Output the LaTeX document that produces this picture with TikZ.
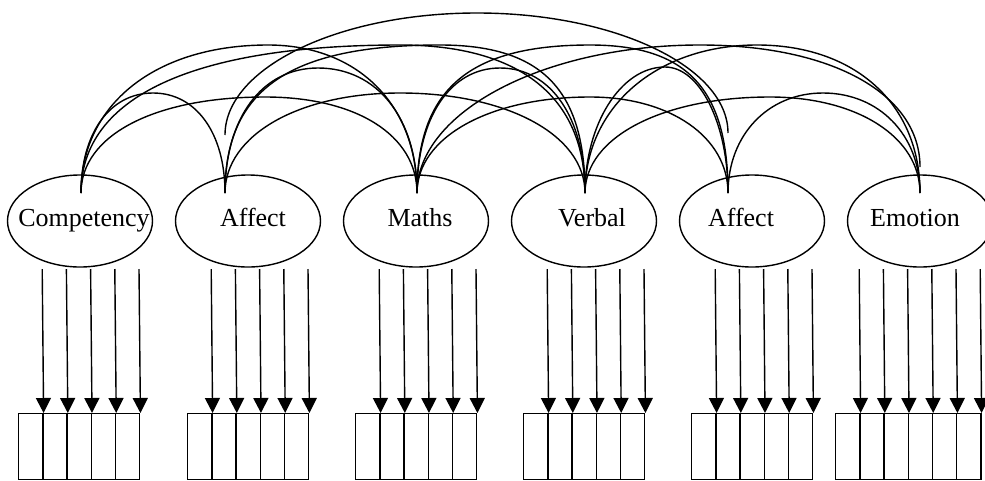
\documentclass[tikz,border=0pt]{standalone}
\usepackage{fontspec}
\setmainfont{Liberation Serif}
\usetikzlibrary{arrows.meta,shapes.geometric}
\begin{document}
\begin{tikzpicture}[x=1pt,y=-1pt,
  latent/.style={draw,ellipse,minimum width=145pt,minimum height=92pt,inner sep=0pt,line width=1.4pt},
  lab/.style={anchor=base,inner sep=0pt,font=\fontsize{26}{30}\selectfont},
  corr/.style={line width=1.4pt},
  cell/.style={draw,rectangle,minimum width=24.2pt,minimum height=66pt,inner sep=0pt,anchor=north west,line width=1.4pt},
  ind/.style={line width=1.4pt,-{Triangle[length=15pt,width=15pt]}}]
\useasboundingbox (0,0) rectangle (985,480);
% attachment points
\coordinate (tC) at (81,193);
\coordinate (tA) at (225,193);
\coordinate (tM) at (417,193);
\coordinate (tV) at (585,193);
\coordinate (tB) at (728,193);
\coordinate (tE) at (920,193);
\coordinate (tEh) at (920,167);
\coordinate (bA) at (225,135);
\coordinate (bB) at (728,133);
% correlation arcs
\draw[corr] (tC) .. controls +(0,-60) and +(-43,0) .. (153,93) .. controls +(43,0) and +(0,-60) .. (tA);
\draw[corr] (tC) .. controls +(0,-89) and +(-112,0) .. (268,45) .. controls +(89,0) and +(0,-89) .. (tM);
\draw[corr] (tC) .. controls +(0,-58) and +(-110,0) .. (265,97) .. controls +(91,0) and +(0,-58) .. (tM);
\draw[corr] (tC) .. controls +(0,-96) and +(-207,0) .. (400,45) .. controls +(120,0) and +(0,-96) .. (tV);
\draw[corr] (tA) .. controls +(0,-75) and +(-56,0) .. (318,68) .. controls +(59,0) and +(0,-75) .. (tM);
\draw[corr] (tA) .. controls +(0,-104) and +(-150,0) .. (440,45) .. controls +(101,0) and +(0,-104) .. (tV);
\draw[corr] (tA) .. controls +(0,-58) and +(-101,0) .. (400,93) .. controls +(107,0) and +(0,-58) .. (tV);
\draw[corr] (tM) .. controls +(0,-75) and +(-50,0) .. (500,68) .. controls +(51,0) and +(0,-75) .. (tV);
\draw[corr] (tM) .. controls +(0,-104) and +(-121,0) .. (590,45) .. controls +(97,0) and +(0,-104) .. (tB);
\draw[corr] (tM) .. controls +(0,-56) and +(-100,0) .. (590,97) .. controls +(80,0) and +(0,-56) .. (tB);
\draw[corr] (tM) .. controls +(0,-81) and +(-156,0) .. (700,45) .. controls +(132,0) and +(0,-73) .. (tEh);
\draw[corr] (tV) .. controls +(0,-69) and +(-44,0) .. (665,67) .. controls +(35,0) and +(0,-69) .. (tB);
\draw[corr] (tV) .. controls +(0,-86) and +(-100,0) .. (757,45) .. controls +(98,0) and +(0,-89) .. (tE);
\draw[corr] (tV) .. controls +(0,-56) and +(-107,0) .. (770,97) .. controls +(87,0) and +(0,-56) .. (tE);
\draw[corr] (tB) .. controls +(0,-58) and +(-55,0) .. (823,93) .. controls +(56,0) and +(0,-58) .. (tE);
\draw[corr] (bA) .. controls +(0,-67) and +(-139,0) .. (477,13) .. controls +(138,0) and +(0,-66) .. (bB);
% latent factors
\node[latent] (eC) at (80,221) {};
\node[latent] (eA) at (248,221) {};
\node[latent] (eM) at (416,221) {};
\node[latent] (eV) at (584,221) {};
\node[latent] (eB) at (752,221) {};
\node[latent] (eE) at (920,221) {};
\node[lab] (lC) at (84,226) {Competency};
\node[lab] (lA) at (253,226) {Affect};
\node[lab] (lM) at (420,226) {Maths};
\node[lab] (lV) at (592,226) {Verbal};
\node[lab] (lB) at (741,226) {Affect};
\node[lab] (lE) at (915,226) {Emotion};
% indicators
\foreach \g/\L/\n in {1/18/5, 2/187/5, 3/355/5, 4/523/5, 5/691/5, 6/835/6} {
  \foreach \k in {1,...,\n} {
    \node[cell] (c\g-\k) at ({\L+24.2*(\k-1)},413) {};
    \coordinate (s\g-\k) at ({\L+24.2*\k},269);
    \draw[ind] (s\g-\k) -- (c\g-\k.north east);
  }
}
\end{tikzpicture}
\end{document}
